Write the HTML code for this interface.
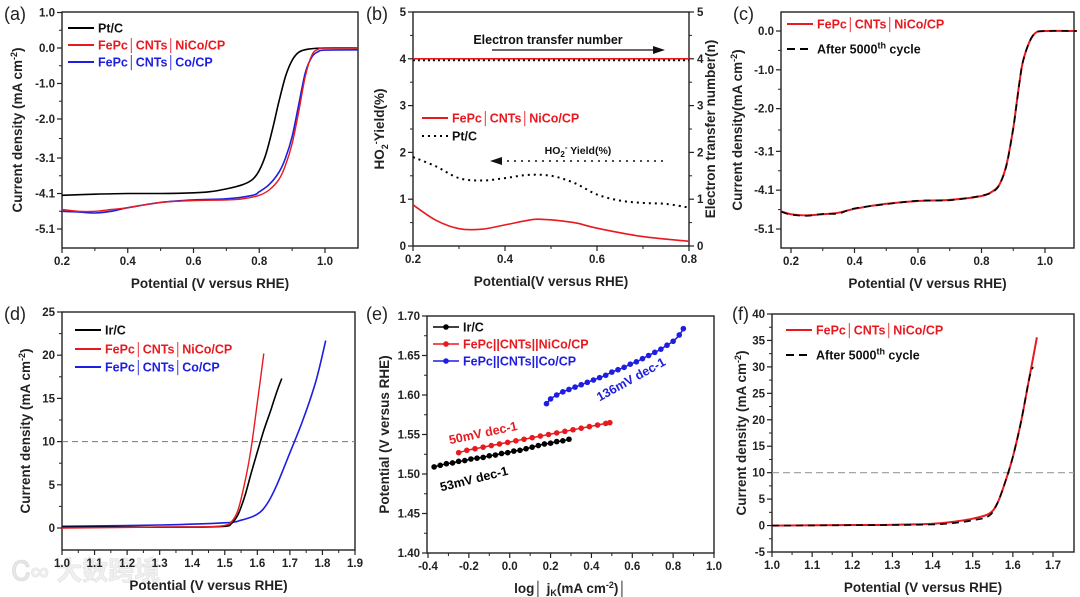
<!DOCTYPE html>
<html><head><meta charset="utf-8">
<style>
html,body{margin:0;padding:0;background:#fff;}
svg{display:block;font-family:"Liberation Sans",Arial,sans-serif;}
.tk{font-size:11.5px;font-weight:bold;fill:#222;}
.tt{font-size:13.5px;font-weight:bold;fill:#222;}
.lg{font-size:12.5px;font-weight:bold;}
.pl{font-size:18px;fill:#222;}
</style></head>
<body>
<svg id="fig" width="1080" height="597" viewBox="0 0 1080 597">
<text x="12" y="580" font-family="'Liberation Sans','Noto Sans CJK SC',sans-serif" font-size="26" font-weight="bold" fill="#f0f0f0" stroke="#e0e0e0" stroke-width="0.6">Ꮯ∞ 大数跨境</text>
</svg>
<script>
// ---------- data (a) ----------
const aPtX=[0.2,0.3,0.4,0.5,0.6,0.65,0.7,0.75,0.78,0.8,0.82,0.84,0.86,0.88,0.9,0.92,0.95,1.0,1.1];
const aPtY=[-4.15,-4.12,-4.1,-4.1,-4.08,-4.05,-3.97,-3.85,-3.7,-3.45,-3.0,-2.3,-1.5,-0.8,-0.35,-0.12,-0.03,0,0];
const aNiX=[0.2,0.25,0.3,0.35,0.4,0.5,0.6,0.7,0.75,0.8,0.83,0.86,0.88,0.9,0.92,0.94,0.96,0.98,1.0,1.1];
const aNiY=[-4.55,-4.6,-4.6,-4.55,-4.5,-4.35,-4.3,-4.28,-4.25,-4.15,-4.0,-3.7,-3.3,-2.7,-1.8,-0.8,-0.2,-0.03,0,0];
const aCoX=[0.2,0.25,0.3,0.35,0.4,0.5,0.6,0.7,0.78,0.8,0.83,0.86,0.88,0.9,0.92,0.94,0.96,0.98,1.0,1.1];
const aCoY=[-4.6,-4.62,-4.65,-4.6,-4.5,-4.35,-4.28,-4.25,-4.15,-4.05,-3.85,-3.5,-3.1,-2.5,-1.6,-0.7,-0.25,-0.1,-0.06,-0.05];
const aYTicks=[1.0,0.0,-1.0,-2.0,-3.1,-4.1,-5.1];
const aXTicks=[0.2,0.4,0.6,0.8,1.0];
// ---------- data (b) ----------
const bX=[0.2,0.25,0.3,0.35,0.4,0.45,0.48,0.55,0.6,0.7,0.8];
const bNiYield=[0.88,0.55,0.37,0.36,0.45,0.55,0.57,0.5,0.38,0.2,0.1];
const bPtX=[0.2,0.25,0.3,0.35,0.4,0.45,0.5,0.55,0.6,0.65,0.7,0.75,0.8];
const bPtYield=[1.9,1.7,1.45,1.4,1.45,1.52,1.5,1.35,1.1,0.97,0.92,0.9,0.82];
const bNiN=[4.0,4.0];
const bPtN=[3.97,3.97];
const bNX=[0.2,0.8];
const bTicks=[0,1,2,3,4,5];
const bXTicks=[0.2,0.4,0.6,0.8];
// ---------- data (c) ----------
const cX=[0.17,0.2,0.25,0.3,0.35,0.4,0.5,0.6,0.7,0.8,0.84,0.86,0.88,0.9,0.91,0.92,0.93,0.95,0.97,1.0,1.1];
const cNi=[-4.65,-4.72,-4.75,-4.72,-4.68,-4.58,-4.45,-4.38,-4.35,-4.25,-4.1,-3.9,-3.4,-2.5,-1.9,-1.3,-0.8,-0.3,-0.05,0,0];
const cAfter=[-4.66,-4.73,-4.76,-4.71,-4.7,-4.57,-4.46,-4.37,-4.36,-4.24,-4.12,-3.9,-3.42,-2.5,-1.92,-1.3,-0.8,-0.3,-0.05,0,0];
const cYTicks=[0.0,-1.0,-2.0,-3.1,-4.1,-5.1];
const cXTicks=[0.2,0.4,0.6,0.8,1.0];
// ---------- data (d) ----------
const dIrX=[1.0,1.2,1.4,1.5,1.52,1.54,1.56,1.58,1.6,1.62,1.64,1.66,1.675];
const dIrY=[0.1,0.1,0.1,0.2,0.5,1.5,3.5,6.2,8.8,11.3,13.5,15.8,17.3];
const dNiX=[1.0,1.3,1.45,1.5,1.52,1.54,1.56,1.58,1.6,1.62];
const dNiY=[0,0.1,0.15,0.3,0.7,2.0,5,9,14.5,20.2];
const dCoX=[1.0,1.3,1.5,1.55,1.6,1.63,1.66,1.7,1.74,1.78,1.81];
const dCoY=[0.2,0.35,0.6,0.9,1.6,2.8,5,8.7,12.5,17,21.7];
const dYTicks=[0,5,10,15,20,25];
const dXTicks=[1.0,1.1,1.2,1.3,1.4,1.5,1.6,1.7,1.8,1.9];
// ---------- data (e) ----------
const eIrX=[-0.37,-0.34,-0.31,-0.28,-0.25,-0.22,-0.19,-0.16,-0.13,-0.10,-0.07,-0.04,-0.01,0.02,0.05,0.08,0.11,0.14,0.17,0.2,0.23,0.26,0.29];
const eIrY=[1.509,1.511,1.513,1.514,1.516,1.517,1.519,1.520,1.521,1.523,1.524,1.526,1.527,1.529,1.530,1.532,1.534,1.536,1.538,1.539,1.541,1.542,1.544];
const eNiX=[-0.25,-0.21,-0.17,-0.13,-0.09,-0.05,-0.01,0.03,0.07,0.11,0.15,0.19,0.23,0.27,0.31,0.35,0.39,0.43,0.47,0.49];
const eNiY=[1.527,1.530,1.532,1.534,1.536,1.538,1.540,1.542,1.544,1.546,1.548,1.550,1.552,1.554,1.556,1.558,1.560,1.562,1.564,1.565];
const eCoX=[0.18,0.2,0.23,0.26,0.29,0.32,0.35,0.38,0.41,0.44,0.47,0.50,0.53,0.56,0.59,0.62,0.65,0.68,0.71,0.74,0.77,0.80,0.83,0.85];
const eCoY=[1.589,1.595,1.600,1.604,1.607,1.610,1.613,1.616,1.619,1.622,1.625,1.629,1.632,1.635,1.639,1.642,1.646,1.650,1.654,1.658,1.663,1.668,1.676,1.684];
const eYTicks=[1.40,1.45,1.50,1.55,1.60,1.65,1.70];
const eXTicks=[-0.4,-0.2,0.0,0.2,0.4,0.6,0.8,1.0];
// ---------- data (f) ----------
const fNiX=[1.0,1.2,1.3,1.4,1.45,1.5,1.54,1.56,1.58,1.6,1.62,1.64,1.66];
const fNiY=[0,0.1,0.15,0.35,0.7,1.3,2.2,4,8,13,19.5,27.5,35.6];
const fAfX=[1.0,1.3,1.4,1.45,1.5,1.54,1.56,1.58,1.6,1.62,1.64,1.65];
const fAfY=[0,0.1,0.2,0.45,1.0,1.8,4,8,13,19.5,27.5,30];
const fYTicks=[-5,0,5,10,15,20,25,30,35,40];
const fXTicks=[1.0,1.1,1.2,1.3,1.4,1.5,1.6,1.7];

const NS="http://www.w3.org/2000/svg";
const fig=document.getElementById('fig');
function mk(tag,attrs,parent,txt){const e=document.createElementNS(NS,tag);for(const k in attrs)e.setAttribute(k,attrs[k]);if(txt!==undefined)e.textContent=txt;(parent||fig).appendChild(e);return e;}
function scale(d0,d1,p0,p1){return v=>p0+(v-d0)/(d1-d0)*(p1-p0);}
function fmt(v,dp){return v.toFixed(dp);}

function axes(g,box,sx,sy,xt,yt,xdp,ydp){
  const fr=mk('rect',{x:box.l,y:box.t,width:box.r-box.l,height:box.b-box.t,fill:'none',stroke:'#222','stroke-width':1.4},g);
  
  
  xt.forEach((v,i)=>{
    const x=sx(v);
    mk('line',{x1:x,x2:x,y1:box.b,y2:box.b+5,stroke:'#222','stroke-width':1.2},g);
    if(i<xt.length-1){const xm=sx(v+(xt[1]-xt[0])/2);if(xm<box.r)mk('line',{x1:xm,x2:xm,y1:box.b,y2:box.b+3,stroke:'#222','stroke-width':1},g);}
    const t=mk('text',{x:x,y:box.b+17,'text-anchor':'middle',class:'tk'},g,fmt(v,xdp));
    
    
  });
  yt.forEach((v,i)=>{
    const y=sy(v);
    mk('line',{x1:box.l-5,x2:box.l,y1:y,y2:y,stroke:'#222','stroke-width':1.2},g);
    if(i<yt.length-1){const ym=(y+sy(yt[i+1]))/2;mk('line',{x1:box.l-3,x2:box.l,y1:ym,y2:ym,stroke:'#222','stroke-width':1},g);}
    const t=mk('text',{x:box.l-7,y:y+4,'text-anchor':'end',class:'tk'},g,fmt(v,ydp));
    
    
  });
}
function smoothPath(pts){
  let d='M'+pts[0][0].toFixed(1)+' '+pts[0][1].toFixed(1);
  for(let i=0;i<pts.length-1;i++){
    const p0=pts[Math.max(0,i-1)],p1=pts[i],p2=pts[i+1],p3=pts[Math.min(pts.length-1,i+2)];
    const c1x=p1[0]+(p2[0]-p0[0])/6,c1y=p1[1]+(p2[1]-p0[1])/6;
    const c2x=p2[0]-(p3[0]-p1[0])/6,c2y=p2[1]-(p3[1]-p1[1])/6;
    d+=` C${c1x.toFixed(1)} ${c1y.toFixed(1)} ${c2x.toFixed(1)} ${c2y.toFixed(1)} ${p2[0].toFixed(1)} ${p2[1].toFixed(1)}`;
  }
  return d;
}
function line(g,xs,ys,sx,sy,color,w,dash,name){
  const pts=xs.map((x,i)=>[sx(x),sy(ys[i])]);
  const p=mk('path',{d:smoothPath(pts),fill:'none',stroke:color,'stroke-width':w,'stroke-dasharray':dash||'none','stroke-linejoin':'round'},g);
  
  
  return p;
}
function dots(g,xs,ys,sx,sy,color,name){
  line(g,xs,ys,sx,sy,color,1.5,null,name+'-line');
  xs.forEach((x,i)=>{
    const c=mk('circle',{cx:sx(x),cy:sy(ys[i]),r:2.8,fill:color},g);
    
    
  });
}
function legend(g,x,y,color,label,dash,dotm){
  const l=mk('line',{x1:x,x2:x+26,y1:y,y2:y,stroke:color,'stroke-width':dotm?1.5:2,'stroke-dasharray':dash||'none'},g);
  
  
  if(dotm){mk('circle',{cx:x+13,cy:y,r:2.8,fill:color},g);}
  const t=mk('text',{x:x+30,y:y+4.5,class:'lg',fill:color==='#000'?'#111':color},g);
  t.innerHTML=label;
  
  
}
function titles(g,box,letter,lx,ly,xt,yt,ytx){
  const p=mk('text',{x:lx,y:ly,class:'pl'},g,letter);
  
  
  const x=mk('text',{x:(box.l+box.r)/2,y:box.b+40,'text-anchor':'middle',class:'tt'},g);
  x.innerHTML=xt;
  
  
  const cy=(box.t+box.b)/2;
  const y=mk('text',{x:ytx,y:cy,'text-anchor':'middle',class:'tt',transform:`rotate(-90 ${ytx} ${cy})`},g);
  y.innerHTML=yt;
  
  
}
function panel(name){const g=mk('g',{});return g;}
const RED='#e8191f',BLUE='#1d1ee0',BLK='#000';

// ===== (a) =====
{const g=panel('panel-a');const box={l:62,r:358,t:12,b:248};
const sx=scale(0.2,1.0,62,325),sy=scale(0,-5.1,48,229);
axes(g,box,sx,sy,aXTicks,aYTicks,1,1);
line(g,aPtX,aPtY,sx,sy,BLK,1.6,null,'series-pt-c');
line(g,aCoX,aCoY,sx,sy,BLUE,1.6,null,'series-co-cp');
line(g,aNiX,aNiY,sx,sy,RED,1.4,null,'series-nico-cp');
legend(g,68,28,BLK,'Pt/C');legend(g,68,45,RED,'FePc│CNTs│NiCo/CP');legend(g,68,62,BLUE,'FePc│CNTs│Co/CP');
titles(g,box,'(a)',4,20,'Potential (V versus RHE)','Current density (mA cm<tspan dy="-5" font-size="9">-2</tspan><tspan dy="5">)</tspan>',22);}

// ===== (b) =====
{const g=panel('panel-b');const box={l:413,r:689,t:12,b:246};
const sx=scale(0.2,0.8,413,689),sy=scale(0,5,246,12);
axes(g,box,sx,sy,bXTicks,bTicks,1,0);
bTicks.forEach((v,i)=>{const y=sy(v);mk('line',{x1:689,x2:694,y1:y,y2:y,stroke:'#222','stroke-width':1.2},g);
 if(i<bTicks.length-1){const ym=sy(v+0.5);mk('line',{x1:689,x2:692,y1:ym,y2:ym,stroke:'#222','stroke-width':1},g);}
 const t=mk('text',{x:697,y:y+4,class:'tk'},g,String(v));});
line(g,bNX,bPtN,sx,sy,BLK,2,'2 3','series-pt-n');
line(g,bNX,bNiN,sx,sy,RED,1.6,null,'series-nico-n');
line(g,bPtX,bPtYield,sx,sy,BLK,2,'2 4','series-pt-yield');
line(g,bX,bNiYield,sx,sy,RED,1.6,null,'series-nico-yield');
const a1=mk('text',{x:548,y:44,'text-anchor':'middle',class:'lg',fill:'#111','font-size':'11.5'},g,'Electron transfer number');
mk('line',{x1:492,x2:660,y1:50,y2:50,stroke:'#111','stroke-width':1.2},g);mk('path',{d:'M665 50 L653 46 L653 54 Z',fill:'#111'},g);
const a2=mk('text',{x:578,y:154,'text-anchor':'middle','font-size':'10.5','font-weight':'bold',fill:'#111'},g);a2.innerHTML='HO<tspan dy="3" font-size="8">2</tspan><tspan dy="-7" font-size="8">-</tspan><tspan dy="4"> Yield(%)</tspan>';
mk('line',{x1:500,x2:665,y1:161,y2:161,stroke:'#111','stroke-width':1.6,'stroke-dasharray':'2 5'},g);mk('path',{d:'M490 161 L502 157 L502 165 Z',fill:'#111'},g);
legend(g,422,118,RED,'FePc│CNTs│NiCo/CP');legend(g,422,136,BLK,'Pt/C','2 4');
titles(g,box,'(b)',366,20,'Potential(V versus RHE)','HO<tspan dy="4" font-size="9">2</tspan><tspan dy="-9" font-size="9">-</tspan><tspan dy="5">Yield(%)</tspan>',384);
const ry=(12+246)/2;const t=mk('text',{x:715,y:ry,'text-anchor':'middle',class:'tt',transform:`rotate(-90 715 ${ry})`},g,'Electron transfer number(n)');}

// ===== (c) =====
{const g=panel('panel-c');const box={l:781,r:1074,t:12,b:248};
const sx=scale(0.2,1.0,791,1045),sy=scale(0,-5.1,31,229);
axes(g,box,sx,sy,cXTicks,cYTicks,1,1);
line(g,cX,cNi,sx,sy,RED,2,null,'series-nico-cp');
line(g,cX,cAfter,sx,sy,BLK,1.6,'7 5','series-after-5000');
legend(g,787,24,RED,'FePc│CNTs│NiCo/CP');legend(g,787,49,BLK,'After 5000<tspan dy="-5" font-size="9">th</tspan><tspan dy="5"> cycle</tspan>','8 5');
titles(g,box,'(c)',733,20,'Potential (V versus RHE)','Current density(mA cm<tspan dy="-5" font-size="9">-2</tspan><tspan dy="5">)</tspan>',742);}

// ===== (d) =====
{const g=panel('panel-d');const box={l:62,r:355,t:312,b:550};
const sx=scale(1.0,1.9,62,355),sy=scale(0,25,528,312);
axes(g,box,sx,sy,dXTicks,dYTicks,1,0);
mk('line',{x1:62,x2:355,y1:sy(10),y2:sy(10),stroke:'#777','stroke-width':1,'stroke-dasharray':'6 4'},g);
line(g,dCoX,dCoY,sx,sy,BLUE,1.6,null,'series-co-cp');
line(g,dIrX,dIrY,sx,sy,BLK,1.6,null,'series-ir-c');
line(g,dNiX,dNiY,sx,sy,RED,1.4,null,'series-nico-cp');
legend(g,75,330,BLK,'Ir/C');legend(g,75,349,RED,'FePc│CNTs│NiCo/CP');legend(g,75,367,BLUE,'FePc│CNTs│Co/CP');
titles(g,box,'(d)',4,320,'Potential (V versus RHE)','Current density (mA cm<tspan dy="-5" font-size="9">-2</tspan><tspan dy="5">)</tspan>',30);}

// ===== (e) =====
{const g=panel('panel-e');const box={l:427,r:714,t:316,b:553};
const sx=scale(-0.4,1.0,428,714),sy=scale(1.40,1.70,553,316);
axes(g,box,sx,sy,eXTicks,eYTicks,1,2);
dots(g,eIrX,eIrY,sx,sy,BLK,'series-ir-c');
dots(g,eNiX,eNiY,sx,sy,RED,'series-nico-cp');
dots(g,eCoX,eCoY,sx,sy,BLUE,'series-co-cp');
legend(g,433,327,BLK,'Ir/C',null,true);legend(g,433,344,RED,'FePc||CNTs||NiCo/CP',null,true);legend(g,433,361,BLUE,'FePc||CNTs||Co/CP',null,true);
const an=[[475,483,-14,BLK,'53mV dec-1'],[484,437,-12,RED,'50mV dec-1'],[633,383,-29,BLUE,'136mV dec-1']];
an.forEach(a=>{const t=mk('text',{x:a[0],y:a[1],'text-anchor':'middle',class:'lg',fill:a[3],transform:`rotate(${a[2]} ${a[0]} ${a[1]})`},g,a[4]);});
titles(g,box,'(e)',366,320,'log│ j<tspan dy="3" font-size="9">K</tspan><tspan dy="-3">(mA cm</tspan><tspan dy="-5" font-size="9">-2</tspan><tspan dy="5">)│</tspan>','Potential (V versus RHE)',389);}

// ===== (f) =====
{const g=panel('panel-f');const box={l:772,r:1074,t:314,b:552};
const sx=scale(1.0,1.7,772,1053),sy=scale(-5,40,552,314);
axes(g,box,sx,sy,fXTicks,fYTicks,1,0);
mk('line',{x1:772,x2:1074,y1:sy(10),y2:sy(10),stroke:'#999','stroke-width':1.2,'stroke-dasharray':'7 4'},g);
line(g,fNiX,fNiY,sx,sy,RED,2,null,'series-nico-cp');
line(g,fAfX,fAfY,sx,sy,BLK,1.6,'7 5','series-after-5000');
legend(g,786,330,RED,'FePc│CNTs│NiCo/CP');legend(g,786,355,BLK,'After 5000<tspan dy="-5" font-size="9">th</tspan><tspan dy="5"> cycle</tspan>','8 5');
titles(g,box,'(f)',732,320,'Potential (V versus RHE)','Current density (mA cm<tspan dy="-5" font-size="9">-2</tspan><tspan dy="5">)</tspan>',746);}
</script>
</body></html>
